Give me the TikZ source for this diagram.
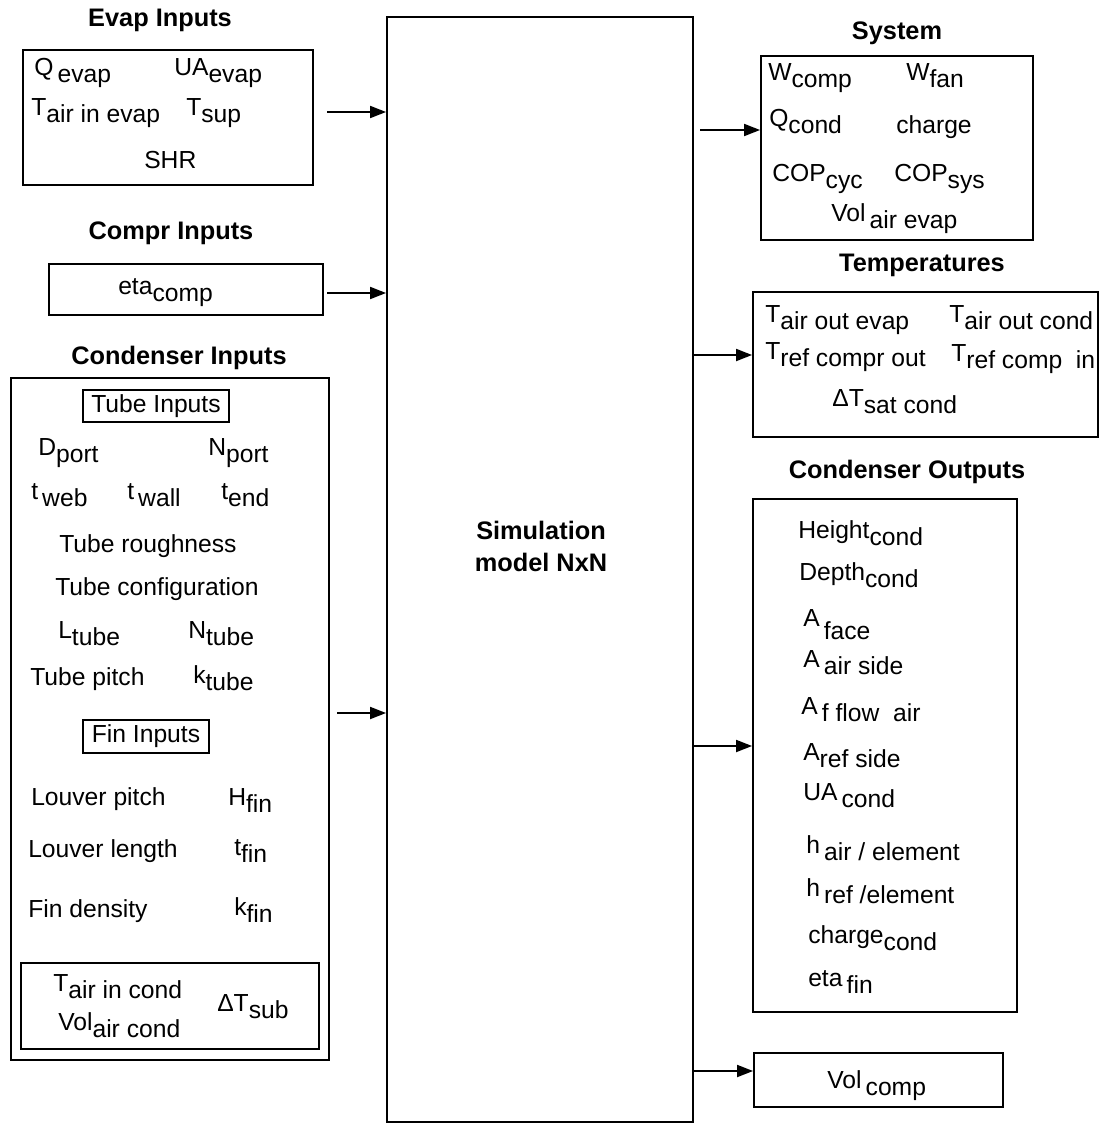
\documentclass[tikz,border=0pt]{standalone}
\usepackage{fontspec}
\setmainfont{Liberation Sans}
\usetikzlibrary{arrows.meta,fit}
\newcommand{\dn}[1]{\raisebox{-0.3em}{#1}}

\begin{document}
\begin{tikzpicture}[x=0.75pt,y=0.75pt,yscale=-1,xscale=1,
  box/.style={draw,line width=1.4pt,inner sep=0pt},
  txt/.style={anchor=base west,inner sep=0.75pt,font=\fontsize{18.5}{22}\selectfont},
  ttl/.style={inner sep=0.75pt,font=\fontsize{19}{24}\selectfont\bfseries},
  arr/.style={line width=1.4pt,-{Triangle[length=12pt,width=9pt]}}]
\path [use as bounding box] (0,0) rectangle (1099,1124);

%Shape: Rectangle (model)
\node (sim) [box, fit={(387,17)(693,1122)}] {};
% Text Node
\draw (541,546) node [ttl,align=center] (simtxt) {Simulation\\model NxN};

%Shape: Rectangle (evap inputs)
\node (evap) [box, fit={(23,50)(313,185)}] {};
\draw (160,20) node [ttl] (evapttl) {Evap Inputs};
% Text Node
\draw (33,75) node [txt] (qevap) {Q\,\dn{evap}};
\draw (173,75) node [txt] (uaevap) {UA\dn{evap}};
\draw (30,115) node [txt] (tairevap) {T\dn{air in evap}};
\draw (185,115) node [txt] (tsup) {T\dn{sup}};
\draw (143,168) node [txt] (shr) {SHR};

%Shape: Rectangle (compr inputs)
\node (compr) [box, fit={(49,264)(323,315)}] {};
\draw (171,233) node [ttl] (comprttl) {Compr Inputs};
% Text Node
\draw (117,294) node [txt] (etacomp) {eta\dn{comp}};

%Shape: Rectangle (condenser inputs)
\node (cond) [box, fit={(11,378)(329,1060)}] {};
\draw (179,358) node [ttl] (condttl) {Condenser Inputs};
\draw (156,406) node [box,txt,anchor=center,minimum width=109.5pt,minimum height=24pt] (tubein) {Tube Inputs};
% Text Node
\draw (37,455) node [txt] (dport) {D\dn{port}};
\draw (207,455) node [txt] (nport) {N\dn{port}};
\draw (30,499) node [txt] (tweb) {t\,\dn{web}};
\draw (126,499) node [txt] (twall) {t\,\dn{wall}};
\draw (220,499) node [txt] (tend) {t\dn{end}};
\draw (58,552) node [txt] (rough) {Tube roughness};
\draw (54,595) node [txt] (config) {Tube configuration};
\draw (57,638) node [txt] (ltube) {L\dn{tube}};
\draw (187,638) node [txt] (ntube) {N\dn{tube}};
\draw (29,685) node [txt] (tpitch) {Tube pitch};
\draw (192,683) node [txt] (ktube) {k\dn{tube}};
\draw (146,736.5) node [box,txt,anchor=center,minimum width=94.5pt,minimum height=24.75pt] (finin) {Fin Inputs};
\draw (30,805) node [txt] (lpitch) {Louver pitch};
\draw (227,805) node [txt] (hfin) {H\dn{fin}};
\draw (27,857) node [txt] (llength) {Louver length};
\draw (233,855) node [txt] (tfin) {t\dn{fin}};
\draw (27,917) node [txt] (fdens) {Fin density};
\draw (233,915) node [txt] (kfin) {k\dn{fin}};
%Shape: Rectangle (air side inputs)
\node (airin) [box, fit={(21,963)(319,1049)}] {};
\draw (52,991) node [txt] (taircond) {T\dn{air in cond}};
\draw (57,1030) node [txt] (volair) {Vol\dn{air cond}};
\draw (216,1011) node [txt] (dtsub) {ΔT\dn{sub}};

%Shape: Rectangle (system)
\node (sys) [box, fit={(761,56)(1033,240)}] {};
\draw (897,33) node [ttl] (systtl) {System};
% Text Node
\draw (767,80) node [txt] (wcomp) {W\dn{comp}};
\draw (905,80) node [txt] (wfan) {W\dn{fan}};
\draw (768,126) node [txt] (qcond) {Q\dn{cond}};
\draw (895,133) node [txt] (charge) {charge};
\draw (771,181) node [txt] (copcyc) {COP\dn{cyc}};
\draw (893,181) node [txt] (copsys) {COP\dn{sys}};
\draw (830,221) node [txt] (volevap) {Vol\,\dn{air evap}};

%Shape: Rectangle (temperatures)
\node (temp) [box, fit={(753,292)(1098,437)}] {};
\draw (922,265) node [ttl] (tempttl) {Temperatures};
% Text Node
\draw (764,322) node [txt] (taoe) {T\dn{air out evap}};
\draw (948,322) node [txt] (taoc) {T\dn{air out cond}};
\draw (764,359) node [txt] (trco) {T\dn{ref compr out}};
\draw (950,361) node [txt] (trci) {T\dn{ref comp \ in}};
\draw (831,406) node [txt] (dtsat) {ΔT\dn{sat cond}};

%Shape: Rectangle (condenser outputs)
\node (cout) [box, fit={(753,499)(1017,1012)}] {};
\draw (907,472) node [ttl] (coutttl) {Condenser Outputs};
% Text Node
\draw (797,538) node [txt] (hcond) {Height\dn{cond}};
\draw (798,580) node [txt] (dcond) {Depth\dn{cond}};
\draw (802,622) node [txt,yshift=-3pt] (aface) {A\,\raisebox{-0.55em}{face}};
\draw (802,667) node [txt] (aair) {A\,\dn{air side}};
\draw (800,714) node [txt] (aflow) {A\,\dn{f flow \ air}};
\draw (802,760) node [txt] (aref) {A\dn{ref side}};
\draw (802,800) node [txt] (uacond) {UA\,\dn{cond}};
\draw (805,853) node [txt] (hair) {h\,\dn{air / element}};
\draw (805,896) node [txt] (href) {h\,\dn{ref /element}};
\draw (807,943) node [txt] (chcond) {charge\dn{cond}};
\draw (807,986) node [txt] (etafin) {eta\,\dn{fin}};

%Shape: Rectangle (vol comp)
\node (vol) [box, fit={(754,1053)(1003,1107)}] {};
\draw (826,1088) node [txt] (volcomp) {Vol\,\dn{comp}};

%Straight Lines
\coordinate (inev) at (327,112);
\coordinate (inco) at (327,293);
\coordinate (incd) at (337,713);
\coordinate (outsy) at (700,130);
\coordinate (outte) at (693,355);
\coordinate (outco) at (693,746);
\coordinate (outvo) at (693,1071);
\draw [arr] (inev) -- (inev -| sim.west);
\draw [arr] (inco) -- (inco -| sim.west);
\draw [arr] (incd) -- (incd -| sim.west);
\draw [arr] (outsy) -- (outsy -| sys.west);
\draw [arr] (outte) -- (outte -| temp.west);
\draw [arr] (outco) -- (outco -| cout.west);
\draw [arr] (outvo) -- (outvo -| vol.west);

\end{tikzpicture}
\end{document}
